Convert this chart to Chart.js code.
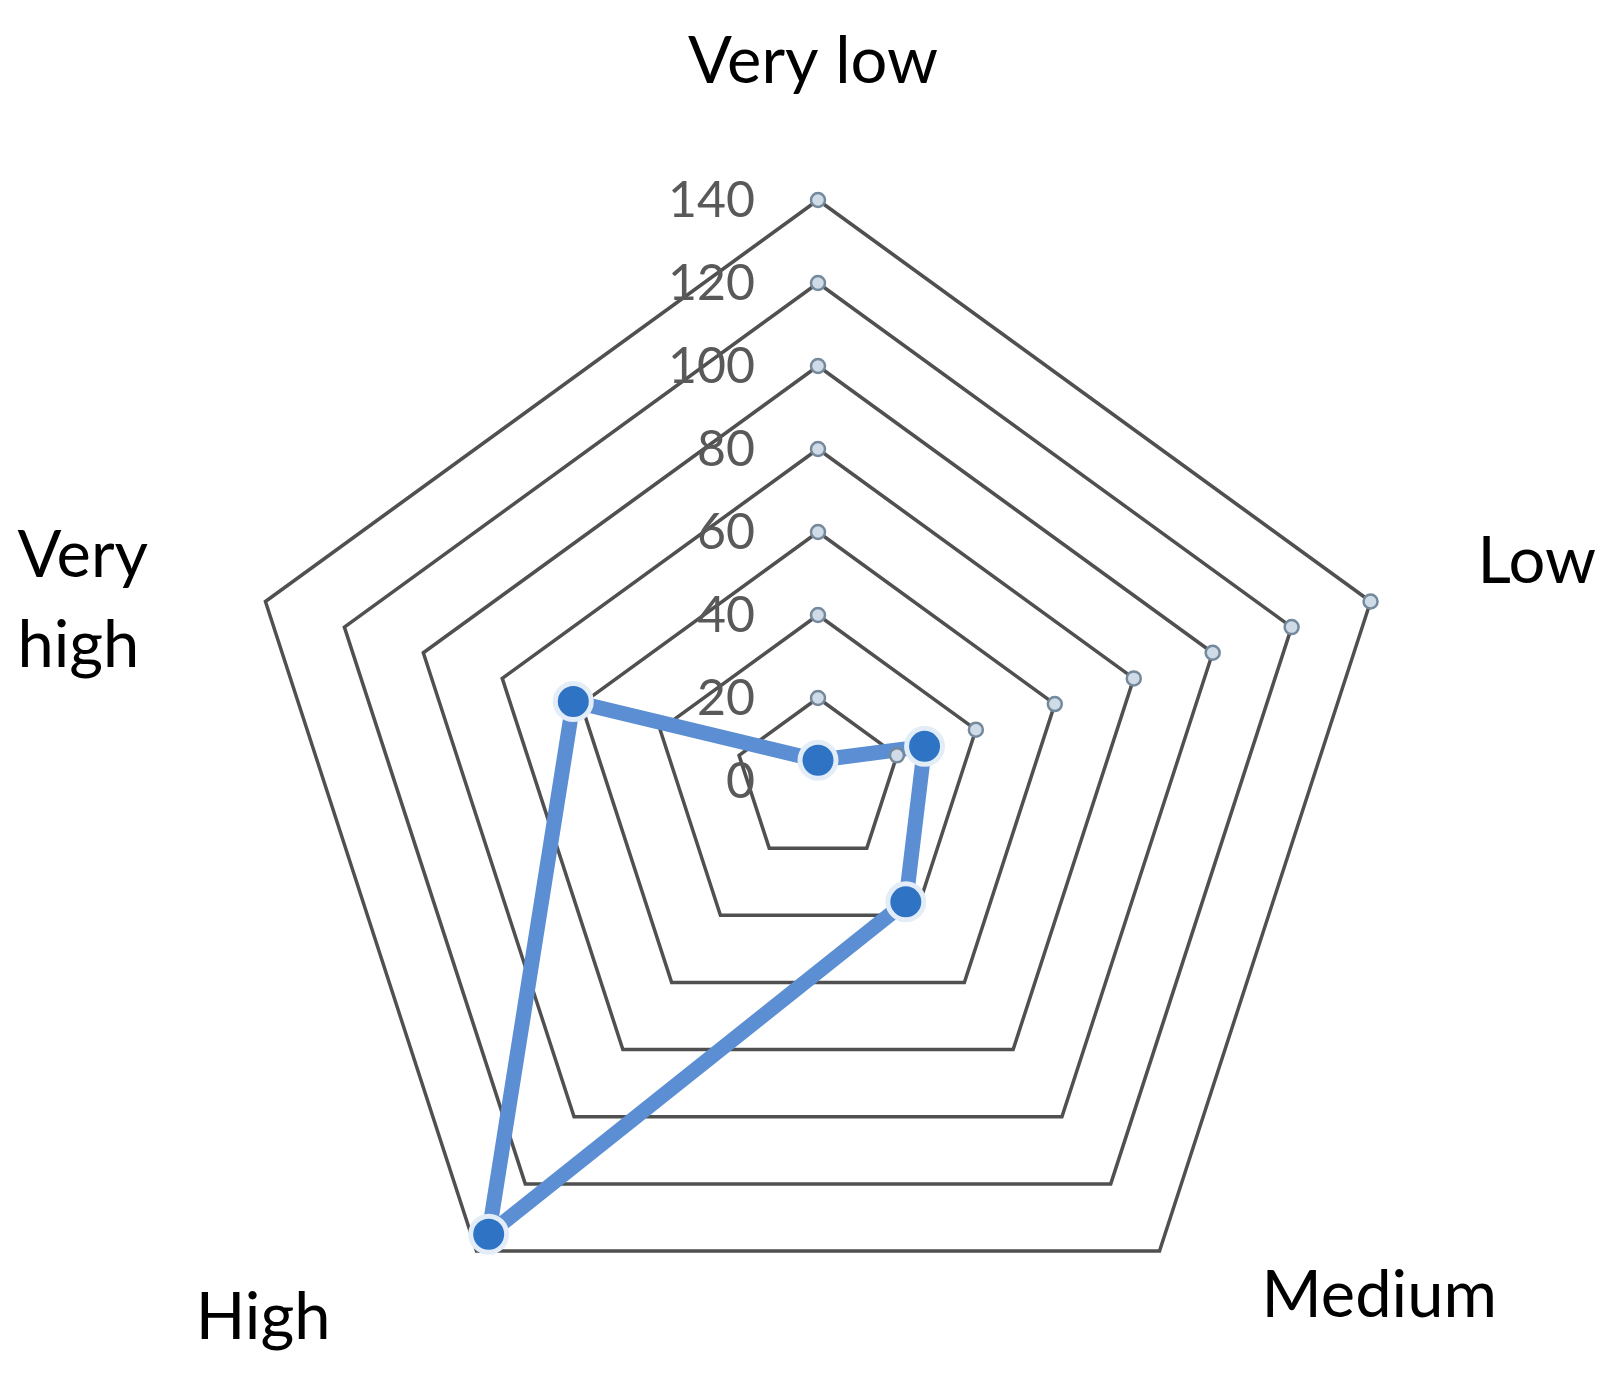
<!DOCTYPE html>
<html>
<head>
<meta charset="utf-8">
<script src="https://cdn.jsdelivr.net/npm/chart.js@4.4.1/dist/chart.umd.min.js"></script>
<style>
  html, body { margin: 0; padding: 0; background: #ffffff; }
  canvas { display: block; }
</style>
</head>
<body>
<canvas id="radarChart" width="1609" height="1373"></canvas>
<script>
const categories = ['Very low', 'Low', 'Medium', 'High', ['Very', 'high']];
const values = [5, 27, 36, 135, 62];
const tickValues = [0, 20, 40, 60, 80, 100, 120, 140];

// Excel put its little hollow markers on the first two spokes only
const markerAxes = [0, 1];

// where each category name sits, relative to the outer ring vertex
const labelPlace = [
    { dx: -5, dy: -117, align: 'center' },
    { dx: 107, dy: -18, align: 'left' },
    { dx: 102, dy: 66, align: 'left' },
    { dx: -146, dy: 88, align: 'right' },
    { dx: -248, dy: -24, align: 'left' }
];

const labelFont = '65px Lato';
const tickFont = '50px Lato';

const extras = {
    id: 'extras',
    afterDatasetsDraw(chart) {
        const ctx = chart.ctx;
        const r = chart.scales.r;

        // tick numbers, to the left of the top spoke
        ctx.save();
        ctx.font = tickFont;
        ctx.fillStyle = '#595959';
        ctx.textAlign = 'right';
        ctx.textBaseline = 'middle';
        tickValues.forEach(v => {
            const p = r.getPointPositionForValue(0, v);
            ctx.fillText(String(v), r.xCenter - 63, p.y + 1);
        });
        ctx.restore();

        // small hollow markers on the rings
        ctx.save();
        ctx.lineWidth = 2.5;
        ctx.strokeStyle = '#74899c';
        ctx.fillStyle = '#cfdce7';
        markerAxes.forEach(i => {
            tickValues.forEach(v => {
                if (v === 0) return;
                const p = r.getPointPositionForValue(i, v);
                ctx.beginPath();
                ctx.arc(p.x, p.y, 7, 0, Math.PI * 2);
                ctx.fill();
                ctx.stroke();
            });
        });
        ctx.restore();

        // category names
        ctx.save();
        ctx.font = labelFont;
        ctx.fillStyle = '#000000';
        ctx.textBaseline = 'alphabetic';
        categories.forEach((name, i) => {
            const p = r.getPointPosition(i, r.drawingArea);
            const place = labelPlace[i];
            ctx.textAlign = place.align;
            const lines = Array.isArray(name) ? name : [name];
            lines.forEach((line, k) => {
                ctx.fillText(line, p.x + place.dx, p.y + place.dy + k * 90);
            });
        });
        ctx.restore();
    }
};

const cvs = document.getElementById('radarChart');

let radar = new Chart(cvs, {
    type: 'radar',
    data: {
        labels: categories,
        datasets: [{
            label: 'Series 1',
            data: values,
            fill: false,
            borderColor: '#5b8ed2',
            borderWidth: 15,
            borderJoinStyle: 'round',
            pointRadius: 18,
            pointBorderWidth: 5,
            pointBackgroundColor: '#2f74c4',
            pointBorderColor: '#e3edf8',
            tension: 0
        }]
    },
    plugins: [extras],
    options: {
        responsive: false,
        animation: false,
        layout: {
            padding: { left: 237, right: 210, top: 200, bottom: 11 }
        },
        plugins: {
            legend: { display: false },
            tooltip: { enabled: false }
        },
        scales: {
            r: {
                min: 0,
                max: 140,
                ticks: { stepSize: 20, display: false },
                pointLabels: { display: false },
                angleLines: { display: false },
                grid: { color: '#505050', lineWidth: 3.5 }
            }
        }
    }
});
</script>
</body>
</html>
